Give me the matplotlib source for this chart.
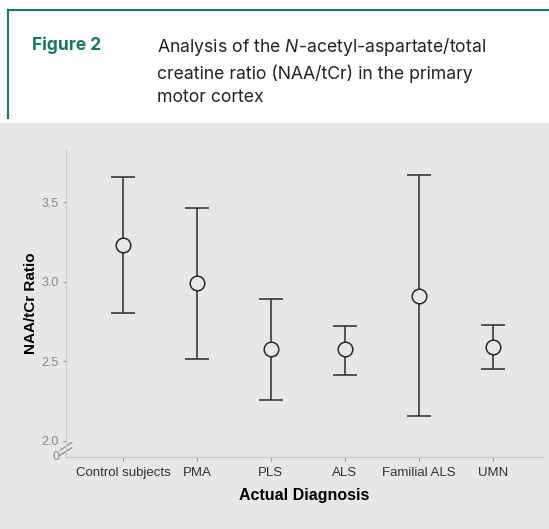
import matplotlib
matplotlib.use("Agg")
import matplotlib.pyplot as plt
from matplotlib.lines import Line2D
from matplotlib.patches import Rectangle

# values
groups = ["Control subjects", "PMA", "PLS", "ALS", "Familial ALS", "UMN"]
means = [3.233, 2.994, 2.579, 2.579, 2.912, 2.590]
upper = [3.660, 3.465, 2.893, 2.723, 3.673, 2.730]
lower = [2.805, 2.516, 2.258, 2.415, 2.157, 2.453]
ytick_vals = [2.0, 2.5, 3.0, 3.5]
ytick_labels = ["2.0", "2.5", "3.0", "3.5"]

GREEN = "#137a66"
PANEL = "#e6e7e9"

plt.rcParams["mathtext.fontset"] = "custom"
plt.rcParams["mathtext.it"] = "Inter:italic"
plt.rcParams["mathtext.rm"] = "Inter"

fig = plt.figure(figsize=(5.49, 5.29), dpi=100)
fig.patch.set_facecolor("white")

# header frame and grey panel
fig.add_artist(Line2D([8 / 549, 1.0], [1 - 10 / 529] * 2, color=GREEN, lw=1.5))
fig.add_artist(Line2D([8 / 549] * 2, [1 - 10 / 529, 1 - 118 / 529], color=GREEN, lw=1.5))
fig.add_artist(Rectangle((0, 0), 1, 1 - 123 / 529, transform=fig.transFigure,
                         facecolor=PANEL, edgecolor="none", zorder=0))

fig.text(32 / 549, 1 - 45 / 529, "Figure 2", color=GREEN, fontsize=12.5,
         fontweight="bold", family="Inter", va="center")
fig.text(157 / 549, 1 - 71 / 529,
         "Analysis of the $\\it{N}$-acetyl-aspartate/total\n"
         "creatine ratio (NAA/tCr) in the primary\nmotor cortex",
         color="#222222", fontsize=12.7, family="Inter", va="center",
         linespacing=1.45)

ax = fig.add_axes([66 / 549, 1 - 457 / 529, 477 / 549, 307 / 529])
ax.set_facecolor(PANEL)
x = list(range(1, len(groups) + 1))
yerr = [[m - lo for m, lo in zip(means, lower)], [u - m for m, u in zip(means, upper)]]
ax.errorbar(x, means, yerr=yerr, fmt="o", color="#2a2a2a", ecolor="#2a2a2a",
            elinewidth=1.1, capsize=8.5, capthick=1.1, markersize=10.5,
            markerfacecolor=PANEL, markeredgecolor="#2a2a2a", markeredgewidth=1.1)

ax.set_xlim(0.23, 6.68)
ax.set_ylim(1.899, 3.83)
ax.set_xticks(x)
ax.set_xticklabels(groups, family="Liberation Sans", fontsize=9.5, color="#333333")
ax.set_yticks(ytick_vals)
ax.set_yticklabels(ytick_labels, family="Liberation Sans", fontsize=9, color="#888888")
ax.tick_params(axis="y", length=2, color="#999999", pad=3)
ax.tick_params(axis="x", length=3, color="#999999", pad=4)
for s in ["top", "right"]:
    ax.spines[s].set_visible(False)
for s in ["left", "bottom"]:
    ax.spines[s].set_color("#c8c8c8")
    ax.spines[s].set_linewidth(0.9)

# axis break marks and the "0" at the bottom
ax.text(-0.014, 0.0, "0", transform=ax.transAxes, ha="right", va="center",
        family="Liberation Sans", fontsize=9, color="#888888")
for dy in (0.018, 0.035):
    ax.add_line(Line2D([-0.012, 0.012], [dy - 0.012, dy + 0.012], transform=ax.transAxes,
                       color="#888888", lw=0.8, clip_on=False))

ax.set_ylabel("NAA/tCr Ratio", family="Liberation Sans", fontsize=11, fontweight="bold",
              labelpad=3)
ax.set_xlabel("Actual Diagnosis", family="Liberation Sans", fontsize=11.5, fontweight="bold",
              labelpad=7)

fig.savefig("out.png", dpi=100)
